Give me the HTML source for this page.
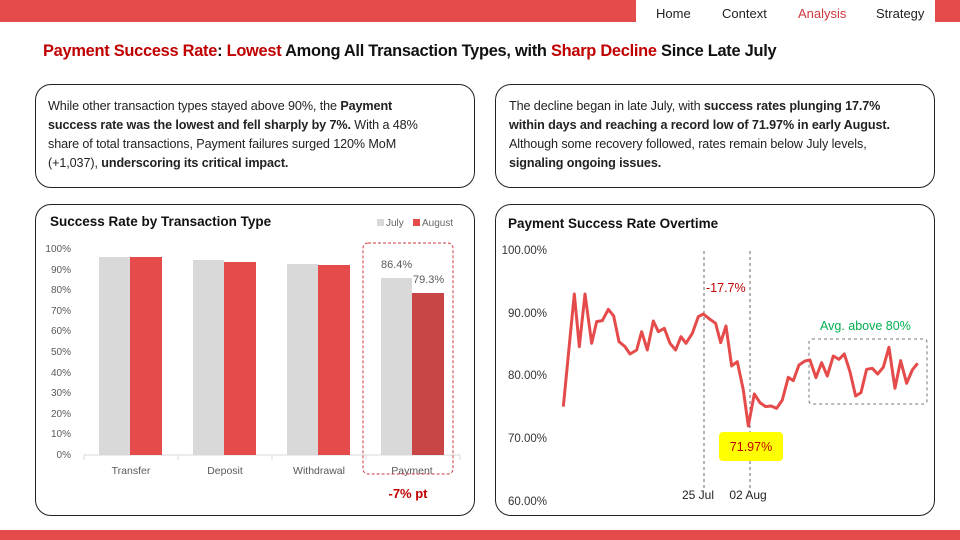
<!DOCTYPE html>
<html><head><meta charset="utf-8"><style>
body{margin:0;width:960px;height:540px;position:relative;background:#fff;font-family:"Liberation Sans",sans-serif;overflow:hidden}
.a{position:absolute}
.box{position:absolute;border:1px solid #222;border-radius:16px;box-sizing:border-box}
.txt{font-size:12.6px;line-height:19px;color:#222;letter-spacing:-0.1px;white-space:nowrap}
.nav{font-size:13px;color:#222;top:6px}
</style></head><body>
<div class="a" style="left:0;top:0;width:636px;height:22px;background:#e54b4b"></div>
<div class="a" style="left:935px;top:0;width:25px;height:22px;background:#e54b4b"></div>
<div class="a nav" style="left:656px">Home</div>
<div class="a nav" style="left:722px">Context</div>
<div class="a nav" style="left:798px;color:#d0383f">Analysis</div>
<div class="a nav" style="left:876px">Strategy</div>
<div class="a" style="left:0;top:530px;width:960px;height:10px;background:#e54b4b"></div>
<div class="a" style="left:43px;top:42px;font-size:16.4px;font-weight:bold;color:#111;letter-spacing:-0.27px;white-space:nowrap"><span style="color:#c00000">Payment Success Rate</span>: <span style="color:#c00000">Lowest</span> Among All Transaction Types, with <span style="color:#c00000">Sharp Decline</span> Since Late July</div>

<div class="box" style="left:35px;top:84px;width:440px;height:104px"></div>
<div class="a txt" style="left:48px;top:97px">While other transaction types stayed above 90%, the <b>Payment</b><br><b>success rate was the lowest and fell sharply by 7%.</b> With a 48%<br>share of total transactions, Payment failures surged 120% MoM<br>(+1,037), <b>underscoring its critical impact.</b></div>
<div class="box" style="left:495px;top:84px;width:440px;height:104px"></div>
<div class="a txt" style="left:509px;top:97px">The decline began in late July, with <b>success rates plunging 17.7%</b><br><b>within days and reaching a record low of 71.97% in early August.</b><br>Although some recovery followed, rates remain below July levels,<br><b>signaling ongoing issues.</b></div>

<div class="box" style="left:35px;top:204px;width:440px;height:312px"></div>
<div class="box" style="left:495px;top:204px;width:440px;height:312px"></div>

<svg class="a" style="left:0;top:0" width="960" height="540" font-family="Liberation Sans, sans-serif">
<text x="50" y="226" font-size="13.5" font-weight="bold" fill="#111">Success Rate by Transaction Type</text>
<rect x="377" y="219" width="7" height="7" fill="#d9d9d9"/><text x="386" y="226" font-size="10" fill="#666">July</text>
<rect x="413" y="219" width="7" height="7" fill="#e54b4b"/><text x="422" y="226" font-size="10" fill="#666">August</text>
<g font-size="10" fill="#595959" text-anchor="end">
<text x="71" y="252">100%</text><text x="71" y="273">90%</text><text x="71" y="293">80%</text><text x="71" y="314">70%</text><text x="71" y="334">60%</text><text x="71" y="355">50%</text><text x="71" y="376">40%</text><text x="71" y="396">30%</text><text x="71" y="417">20%</text><text x="71" y="437">10%</text><text x="71" y="458">0%</text>
</g>
<line x1="84" y1="455" x2="460" y2="455" stroke="#d9d9d9"/>
<g stroke="#d9d9d9"><line x1="84" y1="455" x2="84" y2="460"/><line x1="178" y1="455" x2="178" y2="460"/><line x1="272" y1="455" x2="272" y2="460"/><line x1="366" y1="455" x2="366" y2="460"/><line x1="460" y1="455" x2="460" y2="460"/></g>
<g fill="#d9d9d9"><rect x="99" y="257" width="31" height="198"/><rect x="193" y="260" width="31" height="195"/><rect x="287" y="264" width="31" height="191"/><rect x="381" y="278" width="31" height="177"/></g>
<g fill="#e54b4b"><rect x="130" y="257" width="32" height="198"/><rect x="224" y="262" width="32" height="193"/><rect x="318" y="265" width="32" height="190"/></g>
<rect x="412" y="293" width="32" height="162" fill="#c94646"/>
<text x="381" y="268" font-size="11" fill="#595959">86.4%</text>
<text x="413" y="283" font-size="11" fill="#595959">79.3%</text>
<g font-size="10.5" fill="#595959" text-anchor="middle"><text x="131" y="474">Transfer</text><text x="225" y="474">Deposit</text><text x="319" y="474">Withdrawal</text><text x="412" y="474">Payment</text></g>
<rect x="363" y="243" width="90" height="231" rx="5" fill="none" stroke="#d0383f" stroke-dasharray="3,2"/>
<text x="408" y="498" font-size="13" font-weight="bold" fill="#c00000" text-anchor="middle">-7% pt</text>

<text x="508" y="228" font-size="13.5" font-weight="bold" fill="#111">Payment Success Rate Overtime</text>
<g font-size="11.5" fill="#333" text-anchor="end"><text x="547" y="254">100.00%</text><text x="547" y="317">90.00%</text><text x="547" y="379">80.00%</text><text x="547" y="442">70.00%</text><text x="547" y="505">60.00%</text></g>
<g stroke="#666" stroke-dasharray="3,3"><line x1="704" y1="251" x2="704" y2="489"/><line x1="750" y1="251" x2="750" y2="489"/></g>
<rect x="809" y="339" width="118" height="65" rx="3" fill="none" stroke="#777" stroke-dasharray="3,3"/>
<g transform="translate(495,230) scale(0.3333)">
<polyline fill="none" stroke="#e54b4b" stroke-width="9" stroke-linejoin="round" points="205,530 222,355 238,192 253,350 270,192 290,340 305,275 322,272 340,238 356,258 372,335 390,350 405,372 425,360 440,305 457,360 475,273 490,305 508,295 525,340 542,360 558,320 573,340 592,310 610,260 625,252 645,268 662,280 677,338 693,288 710,408 727,395 745,480 760,588 778,492 795,518 812,530 828,528 845,535 862,510 880,442 895,452 912,405 930,393 945,390 963,443 980,398 997,438 1015,378 1032,388 1048,372 1065,425 1082,498 1098,488 1115,418 1132,415 1148,432 1165,412 1182,352 1200,475 1217,392 1235,460 1252,420 1268,400"/>
</g>
<text x="706" y="292" font-size="12.5" fill="#c00000">-17.7%</text>
<text x="820" y="330" font-size="12.5" fill="#00b050">Avg. above 80%</text>
<rect x="719" y="432" width="64" height="29" rx="4" fill="#ffff00"/>
<text x="751" y="451" font-size="12.5" fill="#c00000" text-anchor="middle">71.97%</text>
<text x="698" y="499" font-size="12" fill="#222" text-anchor="middle">25 Jul</text>
<text x="748" y="499" font-size="12" fill="#222" text-anchor="middle">02 Aug</text>
</svg>
</body></html>
